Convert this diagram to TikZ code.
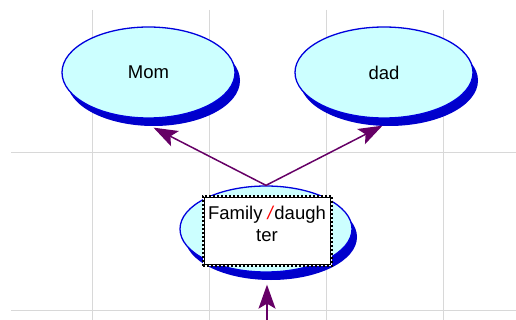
\documentclass[tikz,border=0pt]{standalone}
\usepackage{fontspec}
\setmainfont{Liberation Sans}
\usetikzlibrary{shapes.geometric,shadows,arrows.meta}
\definecolor{ellfill}{HTML}{CCFFFF}
\definecolor{ellborder}{HTML}{0000DD}
\definecolor{ellshadow}{HTML}{0000CC}
\definecolor{linkcol}{HTML}{660066}
\definecolor{gridcol}{HTML}{D8D8D8}
\tikzset{
  gridline/.style={draw=gridcol, line width=1pt},
  bubble/.style={ellipse, draw=ellborder, line width=1.3pt, fill=ellfill,
    inner sep=0pt, font=\fontsize{18.5}{20}\selectfont,
    drop shadow={shadow xshift=5pt, shadow yshift=-8pt, fill=ellshadow, opacity=1}},
  link/.style={draw=linkcol, line width=1.5pt,
    -{Stealth[length=24pt,width=17pt,inset=5pt]}},
  editbox/.style={rectangle, fill=white, draw=black, line width=2.8pt,
    dash pattern=on 2pt off 2pt, minimum width=129pt, minimum height=70pt, inner sep=0pt},
  editinner/.style={rectangle, draw=black, line width=0.8pt,
    minimum width=126pt, minimum height=67pt, inner sep=0pt},
  edittext/.style={align=center, font=\fontsize{18.5}{22}\selectfont, inner sep=0pt}
}
\begin{document}
\begin{tikzpicture}[x=1pt,y=-1pt]
\useasboundingbox (0,0) rectangle (516,320);
% grid
\foreach \gx in {92,209,326,443} \draw[gridline] (\gx,10) -- (\gx,320);
\foreach \gy in {153,310} \draw[gridline] (11,\gy) -- (516,\gy);
% bubbles
\node[bubble, minimum width=173pt, minimum height=91pt] (mom) at (148.5,72.5) {Mom};
\node[bubble, minimum width=178pt, minimum height=91pt] (dad) at (384,72.5) {dad};
\node[bubble, minimum width=172pt, minimum height=86pt] (fam) at (266,229) {};
% edit box
\node[editbox] (fambox) at (267.5,231) {};
\node[editinner] (fambox2) at (fambox.center) {};
\node[edittext] (famtext) at (267,224) {Family \textcolor{red}{\textit{/}}daugh\\ter};
% links
\coordinate (bot) at (267,322);
\draw[link] (fam.north) -- ([xshift=5pt,yshift=-9pt]mom.south);
\draw[link] (fam.north) -- ([xshift=-1.5pt,yshift=-7pt]dad.south);
\draw[link] (bot) -- ([xshift=1pt,yshift=-12pt]fam.south);
\end{tikzpicture}
\end{document}
